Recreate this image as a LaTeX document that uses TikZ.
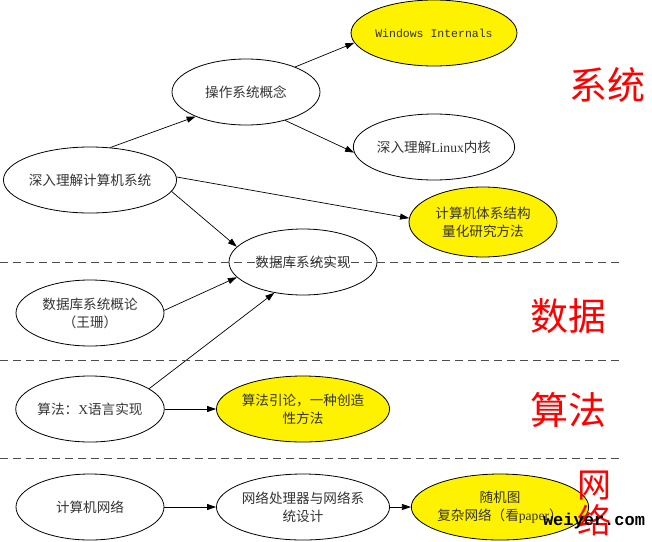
\documentclass[tikz,border=0pt]{standalone}
\usepackage{fontspec}
\setmainfont{Noto Sans CJK SC}
\newfontfamily\lat{Liberation Serif}
\newfontfamily\mono{Liberation Mono}
\usetikzlibrary{shapes.geometric,arrows.meta}
\begin{document}
\begin{tikzpicture}[x=1pt,y=-1pt,
  bk/.style={ellipse,draw,line width=0.8pt,minimum width=148pt,minimum height=66pt,inner sep=0pt,align=center,font=\fontsize{13.6}{18}\selectfont,text=black!80},
  hl/.style={bk,fill=yellow},
  edge/.style={draw,line width=0.7pt,-{Triangle[length=9pt,width=6pt]}},
  sep/.style={draw=black!70,line width=0.8pt,dash pattern=on 8pt off 5pt},
  hw/.style={text=red,inner sep=0pt,font=\fontsize{38}{38}\selectfont}]
\useasboundingbox (0,0) rectangle (652,541);

\node[bk] (sj) at (90,180) {深入理解计算机系统};
\node[bk] (czxt) at (246,92) {操作系统概念};
\node[hl] (win) at (434,33) {\mono\fontsize{11.5}{14}\selectfont Windows Internals};
\node[bk] (linux) at (434,147) {深入理解{\lat Linux}内核};
\node[hl,minimum height=70pt] (arch) at (483,222) {计算机体系结构\\量化研究方法};
\node[bk] (dbimpl) at (303,262) {数据库系统实现};
\node[bk] (dbintro) at (90,313) {数据库系统概论\\（王珊）};
\node[bk] (alg) at (90,409) {算法：{\lat X}语言实现};
\node[hl] (intro) at (303,409) {算法引论，一种创造\\性方法};
\node[bk] (net) at (90,507) {计算机网络};
\node[bk] (np) at (303,507) {网络处理器与网络系\\统设计};
\node[hl] (rg) at (500,507) {随机图\\复杂网络（看{\lat paper}）};

\draw[edge] (sj.58) -- (czxt.206);
\draw[edge] (czxt.27) -- (win.187);
\draw[edge] (czxt.324) -- (linux.184);
\draw[edge] (sj.2) -- (arch.177);
\draw[edge] (sj.352) -- (dbimpl.167);
\draw[edge] (dbintro.2) -- (dbimpl.193);
\draw[edge] (alg.19) -- (dbimpl.227);
\draw[edge] (alg.east) -- (intro.west);
\draw[edge] (net.east) -- (np.west);
\draw[edge] (np.east) -- (rg.west);

\draw[sep] (0,262) -- (622,262);
\draw[sep] (0,360) -- (622,360);
\draw[sep] (0,458) -- (622,458);

\node[hw] (hsys) at (607,85) {系统};
\node[hw] (hdata) at (568,316) {数据};
\node[hw] (halg) at (568,410) {算法};
\node[hw,align=center,font=\fontsize{34}{36}\selectfont] (hnet) at (594,503) {网\\络};
\node[font=\mono\bfseries\fontsize{17}{17}\selectfont,inner sep=0pt] (wm) at (594,521) {weiyer.com};
\end{tikzpicture}
\end{document}
